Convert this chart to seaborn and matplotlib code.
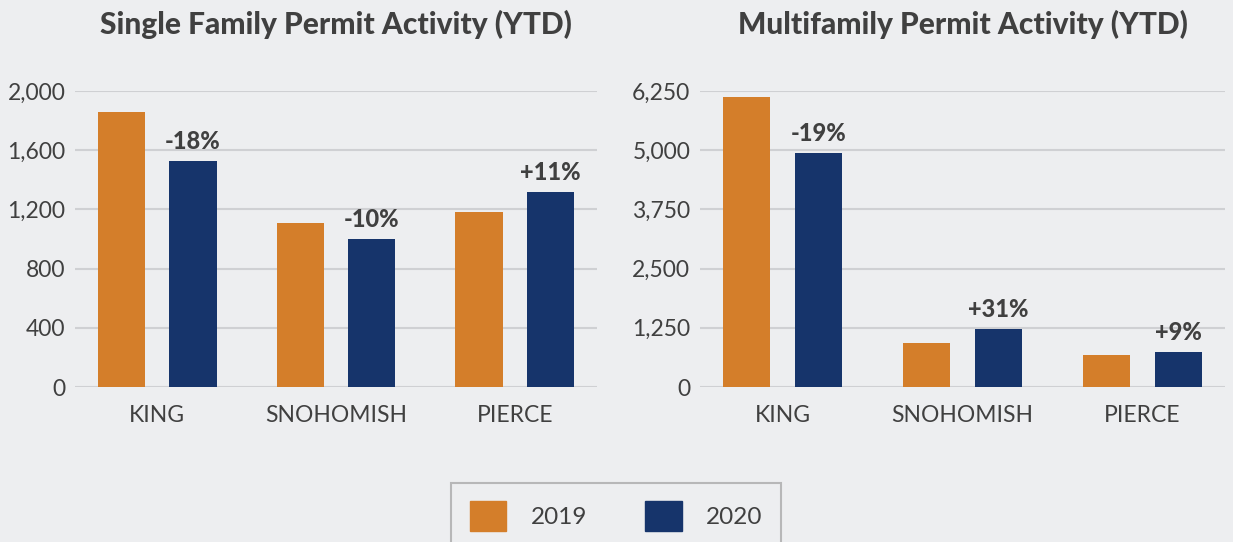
import pandas as pd
import seaborn as sns
import matplotlib.pyplot as plt
from matplotlib.ticker import FuncFormatter

# Data
counties = ["KING", "SNOHOMISH", "PIERCE"]
years = ["2019", "2020"]
single_2019 = [1856, 1106, 1180]
single_2020 = [1525, 998, 1315]
multi_2019 = [6123, 935, 669]
multi_2020 = [4939, 1225, 733]
single_change = ["-18%", "-10%", "+11%"]
multi_change = ["-19%", "+31%", "+9%"]
single_ticks = [0, 400, 800, 1200, 1600, 2000]
multi_ticks = [0, 1250, 2500, 3750, 5000, 6250]

bg = "#EDEEF0"
colors = {"2019": "#D47E2A", "2020": "#16346B"}
text_col = "#404040"

sns.set_theme(style="white")
plt.rcParams["font.family"] = ["Lato", "DejaVu Sans"]


def long_df(v19, v20):
    return pd.DataFrame({
        "county": counties * 2,
        "year": ["2019"] * 3 + ["2020"] * 3,
        "value": v19 + v20,
    })


fig = plt.figure(figsize=(12.33, 5.42), dpi=100, facecolor=bg)
ax1 = fig.add_axes([75 / 1233, 155 / 542, 522 / 1233, 296 / 542])
ax2 = fig.add_axes([700 / 1233, 155 / 542, 525 / 1233, 296 / 542])

panels = [
    (ax1, long_df(single_2019, single_2020), single_ticks, single_change,
     "Single Family Permit Activity (YTD)"),
    (ax2, long_df(multi_2019, multi_2020), multi_ticks, multi_change,
     "Multifamily Permit Activity (YTD)"),
]

for ax, df, ticks, changes, title in panels:
    ax.set_facecolor(bg)
    sns.barplot(data=df, x="county", y="value", hue="year", hue_order=years,
                palette=colors, width=0.8, gap=0.34, saturation=1,
                linewidth=0, legend=False, ax=ax, zorder=3)
    ax.set_ylim(0, ticks[-1])
    ax.set_xlim(-0.46, 2.46)
    ax.set_yticks(ticks)
    ax.yaxis.set_major_formatter(FuncFormatter(lambda v, p: f"{int(v):,}"))
    ax.grid(axis="y", color="#CFD0D3", linewidth=1.5, zorder=0)
    ax.set_axisbelow(True)
    for s in ax.spines.values():
        s.set_visible(False)
    ax.tick_params(axis="both", length=0, labelsize=16.5, labelcolor=text_col)
    ax.tick_params(axis="y", pad=7)
    ax.tick_params(axis="x", pad=13)
    ax.set_xlabel("")
    ax.set_ylabel("")
    # percent change labels above 2020 bars
    bars20 = ax.containers[1]
    for bar, lab in zip(bars20, changes):
        ax.annotate(lab, (bar.get_x() + bar.get_width() / 2, bar.get_height()),
                    xytext=(0, 6), textcoords="offset points",
                    ha="center", va="bottom", fontsize=17, fontweight="black",
                    color=text_col)
    ax.set_title(title, fontsize=21.5, fontweight="black", color=text_col, pad=41)

handles = [plt.Rectangle((0, 0), 1, 1, color=colors[y]) for y in years]
leg = fig.legend(handles, years, loc="upper center", bbox_to_anchor=(616 / 1233, 71 / 542),
                 ncol=2, frameon=True, fancybox=False,
                 handlelength=1.5, handleheight=1.5, handletextpad=1.0,
                 columnspacing=2.4, borderpad=0.75, labelcolor=text_col,
                 prop={"size": 17.5})
leg.get_frame().set_edgecolor("#AAAAAA")
leg.get_frame().set_facecolor(bg)
leg.get_frame().set_linewidth(1.5)

fig.savefig("out.png", dpi=100, facecolor=bg)
